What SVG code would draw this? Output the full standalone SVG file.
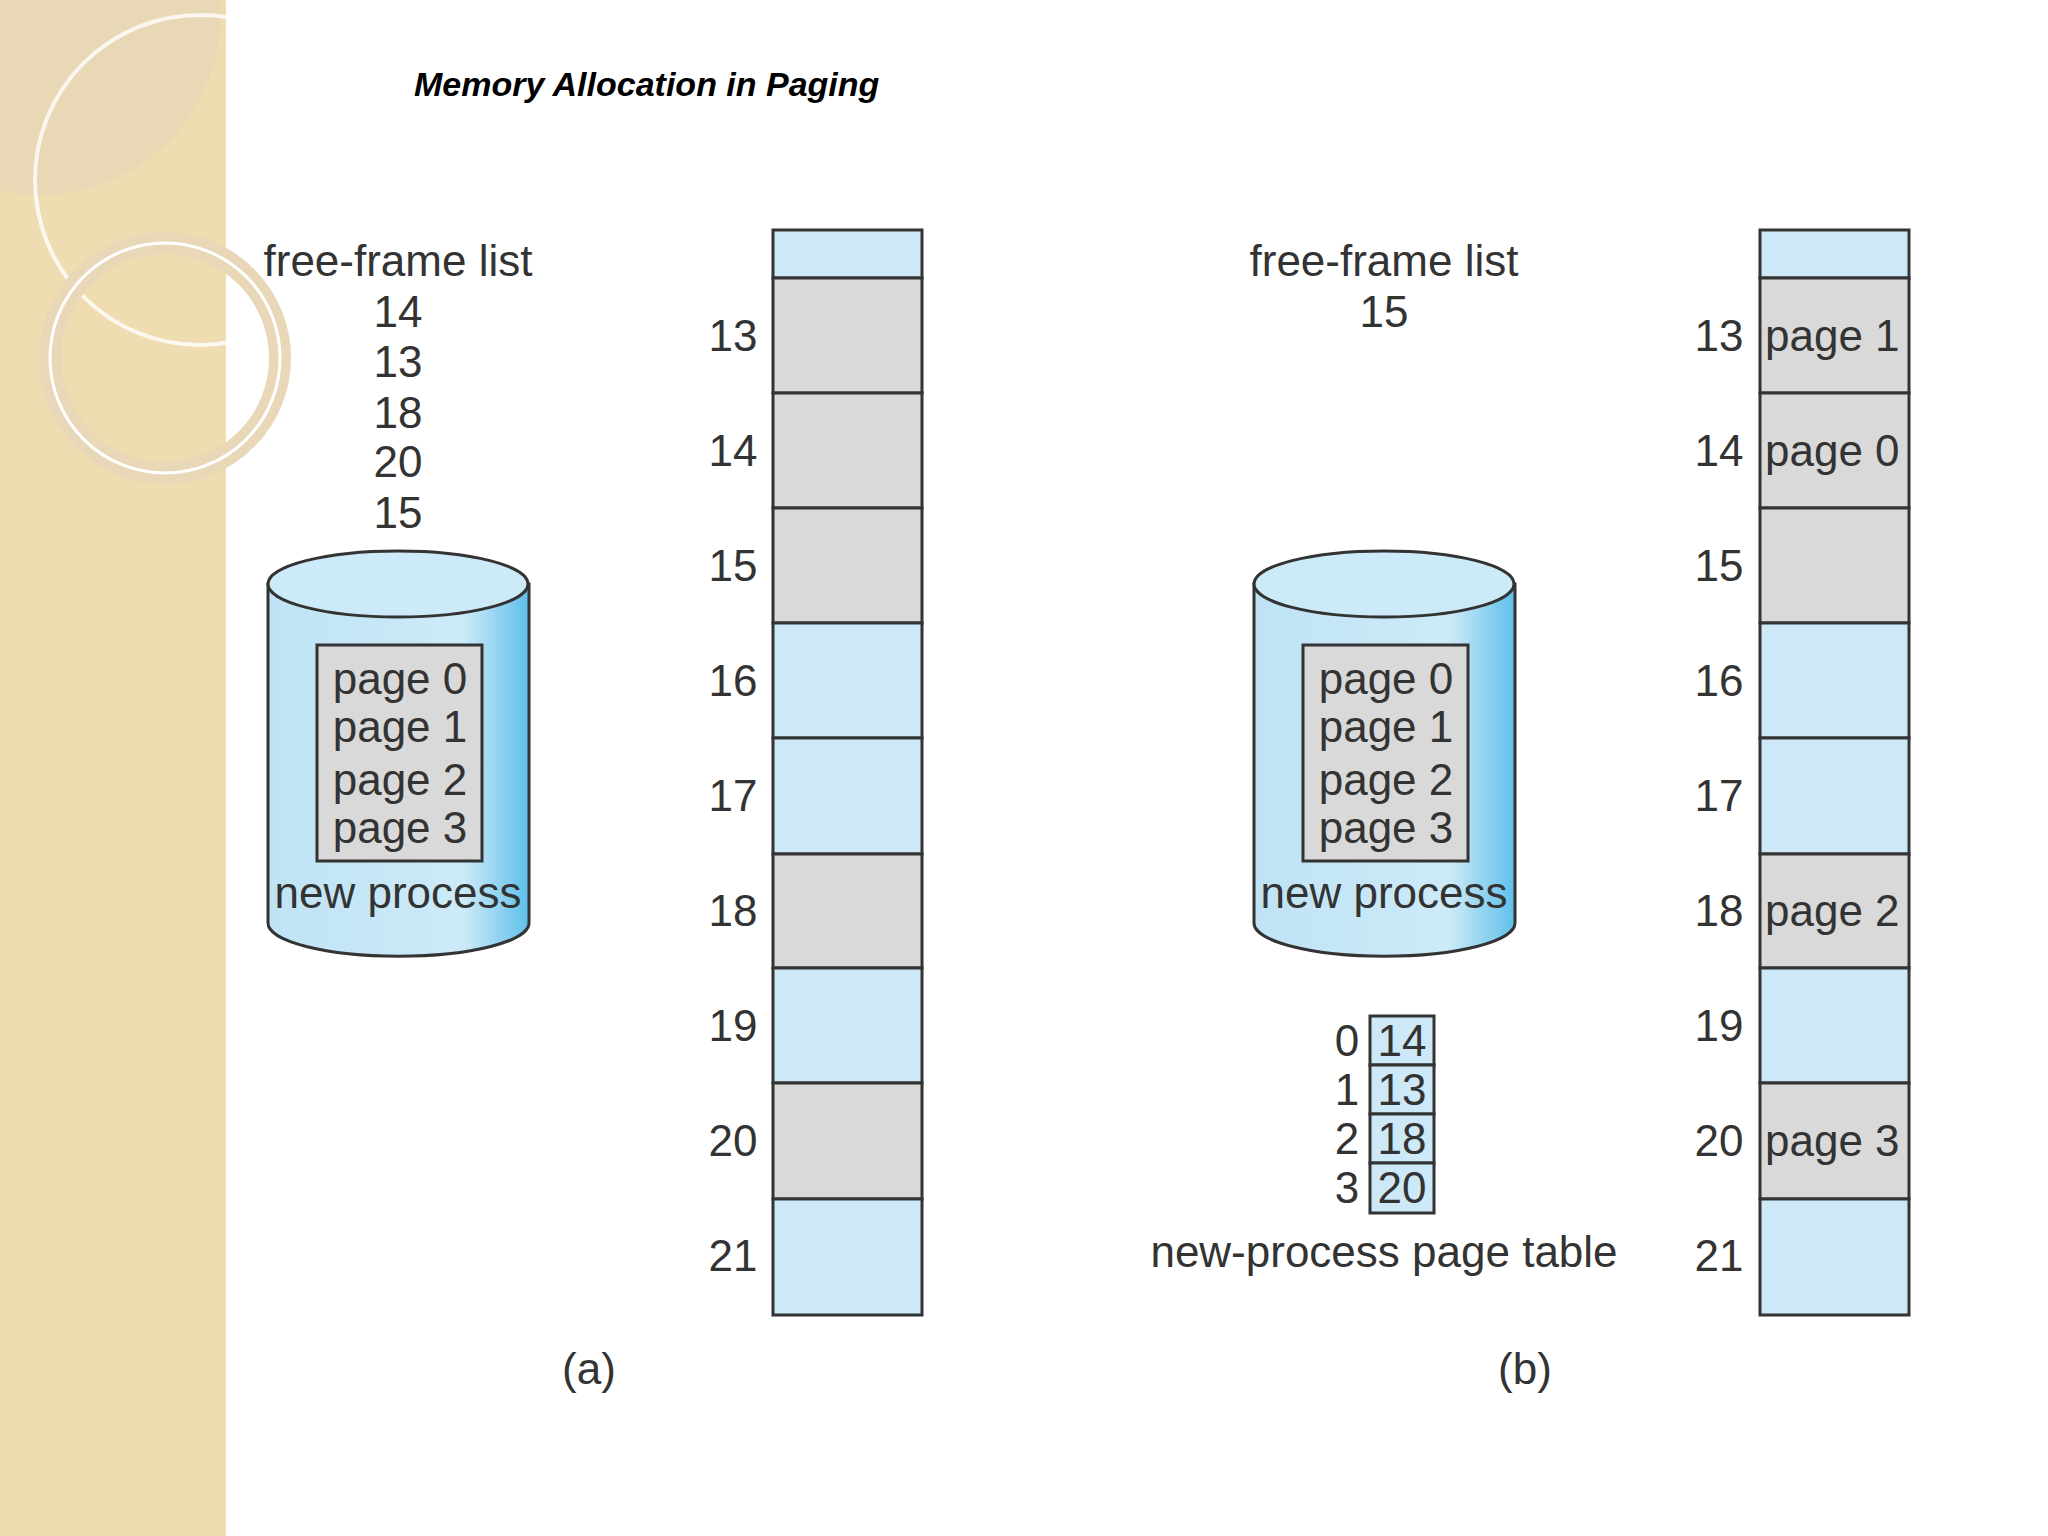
<svg xmlns="http://www.w3.org/2000/svg" width="2048" height="1536" viewBox="0 0 2048 1536">
<defs>
<style>
.t{font-family:"Liberation Sans",Arial,sans-serif;font-size:44px;fill:#333;text-anchor:middle}
.ts{font-family:"Liberation Sans",Arial,sans-serif;font-size:44px;fill:#333}
.b{fill:#cde9f7;stroke:#333;stroke-width:3}
.g{fill:#d9d9d9;stroke:#333;stroke-width:3}
</style>
<linearGradient id="cyl" x1="0" x2="1" y1="0" y2="0">
<stop offset="0" stop-color="#bfe3f5"/><stop offset="0.75" stop-color="#cdeaf8"/><stop offset="1" stop-color="#5fc0ea"/>
</linearGradient>
</defs>
<rect width="2048" height="1536" fill="#fff"/>
<rect width="226" height="1536" fill="#efdcb0"/>
<path d="M0 0 H220 A180 180 0 0 1 0 190 Z" fill="#e6d6b8" opacity="0.7"/>
<circle cx="200" cy="180" r="165" fill="none" stroke="#fff" stroke-width="4" opacity="0.8"/>
<circle cx="165" cy="358" r="115" fill="none" stroke="#e8d8b8" stroke-width="22"/>
<circle cx="165" cy="358" r="115" fill="none" stroke="#fff" stroke-width="3"/>
<text x="414" y="96" style="font-family:'Liberation Sans',Arial,sans-serif;font-size:34px;font-weight:bold;font-style:italic">Memory Allocation in Paging</text>

<g id="freelist-a">
<text class="t" x="398" y="276">free-frame list</text>
<text class="t" x="398" y="327">14</text><text class="t" x="398" y="377">13</text>
<text class="t" x="398" y="428">18</text><text class="t" x="398" y="477">20</text>
<text class="t" x="398" y="528">15</text>
</g>
<g id="disk-a">
<path d="M268 584 V923 A130 33 0 0 0 529 923 V584 Z" fill="url(#cyl)" stroke="#333" stroke-width="3"/>
<ellipse cx="398" cy="584" rx="130" ry="33" fill="#cdeaf8" stroke="#333" stroke-width="3"/>
<rect x="317" y="645" width="165" height="216" fill="#d9d9d9" stroke="#333" stroke-width="3"/>
<text class="t" x="400" y="694">page 0</text><text class="t" x="400" y="742">page 1</text>
<text class="t" x="400" y="795">page 2</text><text class="t" x="400" y="843">page 3</text>
<text class="t" x="398" y="908">new process</text>
</g>
<g id="memory-a">
<rect class="b" x="773" y="230" width="149" height="48"/>
<rect class="g" x="773" y="278" width="149" height="115"/>
<rect class="g" x="773" y="393" width="149" height="115"/>
<rect class="g" x="773" y="508" width="149" height="115"/>
<rect class="b" x="773" y="623" width="149" height="115"/>
<rect class="b" x="773" y="738" width="149" height="116"/>
<rect class="g" x="773" y="854" width="149" height="114"/>
<rect class="b" x="773" y="968" width="149" height="115"/>
<rect class="g" x="773" y="1083" width="149" height="116"/>
<rect class="b" x="773" y="1199" width="149" height="116"/>
<text class="t" x="733" y="351">13</text><text class="t" x="733" y="466">14</text>
<text class="t" x="733" y="581">15</text><text class="t" x="733" y="696">16</text>
<text class="t" x="733" y="811">17</text><text class="t" x="733" y="926">18</text>
<text class="t" x="733" y="1041">19</text><text class="t" x="733" y="1156">20</text>
<text class="t" x="733" y="1271">21</text>
<text class="t" x="589" y="1384">(a)</text>
</g>

<g id="freelist-b">
<text class="t" x="1384" y="276">free-frame list</text>
<text class="t" x="1384" y="327">15</text>
</g>
<g id="disk-b">
<path d="M1254 584 V923 A130 33 0 0 0 1515 923 V584 Z" fill="url(#cyl)" stroke="#333" stroke-width="3"/>
<ellipse cx="1384" cy="584" rx="130" ry="33" fill="#cdeaf8" stroke="#333" stroke-width="3"/>
<rect x="1303" y="645" width="165" height="216" fill="#d9d9d9" stroke="#333" stroke-width="3"/>
<text class="t" x="1386" y="694">page 0</text><text class="t" x="1386" y="742">page 1</text>
<text class="t" x="1386" y="795">page 2</text><text class="t" x="1386" y="843">page 3</text>
<text class="t" x="1384" y="908">new process</text>
</g>
<g id="pagetable">
<rect class="b" x="1370" y="1016" width="64" height="49"/>
<rect class="b" x="1370" y="1065" width="64" height="49"/>
<rect class="b" x="1370" y="1114" width="64" height="49"/>
<rect class="b" x="1370" y="1163" width="64" height="50"/>
<text class="t" x="1402" y="1056">14</text><text class="t" x="1402" y="1105">13</text>
<text class="t" x="1402" y="1154">18</text><text class="t" x="1402" y="1203">20</text>
<text class="t" x="1347" y="1056">0</text><text class="t" x="1347" y="1105">1</text>
<text class="t" x="1347" y="1154">2</text><text class="t" x="1347" y="1203">3</text>
<text class="t" x="1384" y="1267">new-process page table</text>
</g>
<g id="memory-b">
<rect class="b" x="1760" y="230" width="149" height="48"/>
<rect class="g" x="1760" y="278" width="149" height="115"/>
<rect class="g" x="1760" y="393" width="149" height="115"/>
<rect class="g" x="1760" y="508" width="149" height="115"/>
<rect class="b" x="1760" y="623" width="149" height="115"/>
<rect class="b" x="1760" y="738" width="149" height="116"/>
<rect class="g" x="1760" y="854" width="149" height="114"/>
<rect class="b" x="1760" y="968" width="149" height="115"/>
<rect class="g" x="1760" y="1083" width="149" height="116"/>
<rect class="b" x="1760" y="1199" width="149" height="116"/>
<text class="ts" x="1765" y="351">page 1</text><text class="ts" x="1765" y="466">page 0</text>
<text class="ts" x="1765" y="926">page 2</text><text class="ts" x="1765" y="1156">page 3</text>
<text class="t" x="1719" y="351">13</text><text class="t" x="1719" y="466">14</text>
<text class="t" x="1719" y="581">15</text><text class="t" x="1719" y="696">16</text>
<text class="t" x="1719" y="811">17</text><text class="t" x="1719" y="926">18</text>
<text class="t" x="1719" y="1041">19</text><text class="t" x="1719" y="1156">20</text>
<text class="t" x="1719" y="1271">21</text>
<text class="t" x="1525" y="1384">(b)</text>
</g>
</svg>
